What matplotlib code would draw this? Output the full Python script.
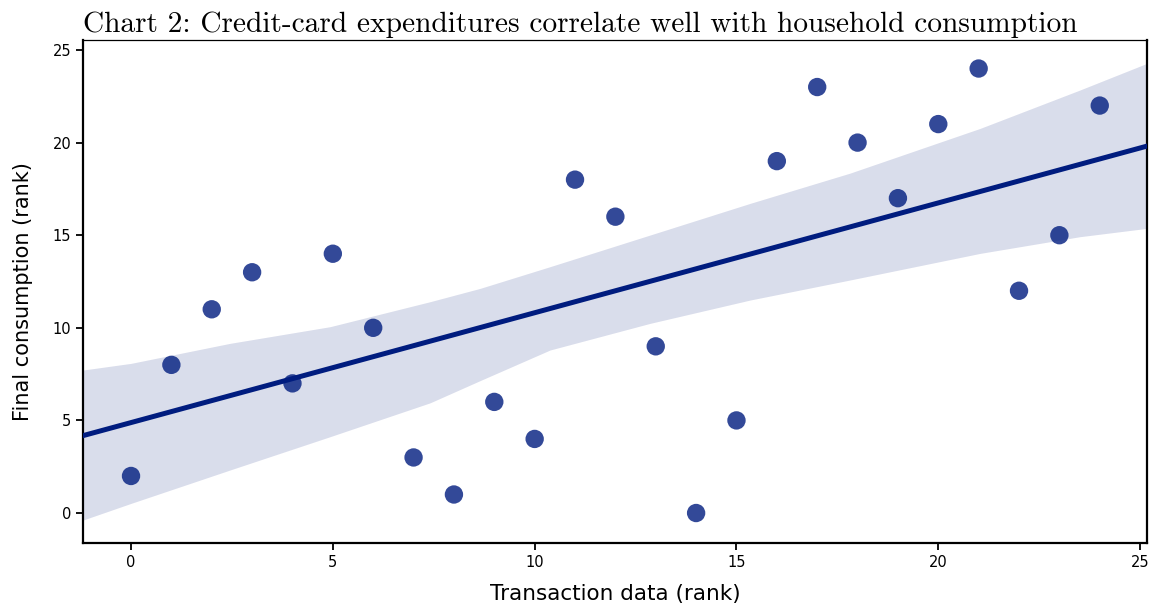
import numpy as np
import matplotlib
matplotlib.use("Agg")
import matplotlib.pyplot as plt

# ── Data (ranks) ─────────────────────────────────────────────────────────
transaction_rank = [0, 1, 2, 3, 4, 5, 6, 7, 8, 9, 10, 11, 12,
                    13, 14, 15, 16, 17, 18, 19, 20, 21, 22, 23, 24]
consumption_rank = [2, 8, 11, 13, 7, 14, 10, 3, 1, 6, 4, 18, 16,
                    9, 0, 5, 19, 23, 20, 17, 21, 24, 12, 15, 22]

# confidence band edges
band_x = [-1.19, 0, 2.45, 4.93, 7.41, 8.65, 10.38, 12.86, 15.34,
          17.81, 21.04, 23.51, 25.17]
band_hi = [7.72, 8.08, 9.16, 10.06, 11.41, 12.13, 13.3, 15.01, 16.72,
           18.35, 20.77, 22.84, 24.28]
band_lo = [-0.38, 0.52, 2.32, 4.12, 5.95, 7.15, 8.80, 10.24, 11.50,
           12.58, 14.02, 14.92, 15.37]

BLUE = "#001c7f"
XLIM = (-1.19, 25.17)
YLIM = (-1.62, 25.54)

fig = plt.figure(figsize=(11.51, 6.07), dpi=100)
ax = fig.add_axes([0.0721, 0.1054, 0.9244, 0.8287])

# scatter
ax.scatter(transaction_rank, consumption_rank, s=175, color=BLUE,
           alpha=0.8, edgecolors="none", zorder=3)

# regression fit across the full x range
slope, intercept = np.polyfit(transaction_rank, consumption_rank, 1)
xs = np.array(XLIM)
ax.plot(xs, intercept + slope * xs, color=BLUE, linewidth=3.6, zorder=4)

# confidence band
ax.fill_between(band_x, band_lo, band_hi, color=BLUE, alpha=0.15,
                linewidth=0, zorder=2)

ax.set_xlim(*XLIM)
ax.set_ylim(*YLIM)
ax.set_xticks([0, 5, 10, 15, 20, 25])
ax.set_yticks([0, 5, 10, 15, 20, 25])
ax.tick_params(labelsize=10.5, length=5, width=1.3)

for side in ["left", "bottom", "right"]:
    ax.spines[side].set_linewidth(1.6)
ax.spines["top"].set_linewidth(0.9)

ax.set_xlabel("Transaction data (rank)", fontsize=15.5, labelpad=10)
ax.set_ylabel("Final consumption (rank)", fontsize=15, labelpad=14)
ax.set_title("Chart 2: Credit-card expenditures correlate well with household consumption",
             loc="left", fontsize=21.2, family="cmr10", pad=6)

fig.savefig("out.png", dpi=100)
